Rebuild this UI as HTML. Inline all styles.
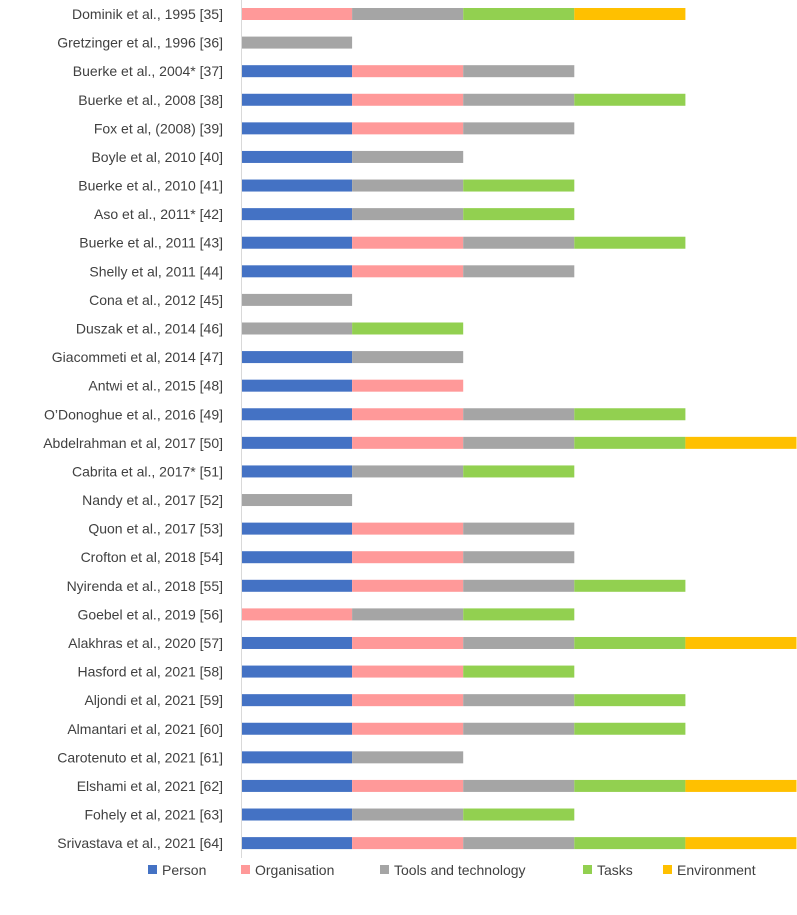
<!DOCTYPE html>
<html><head><meta charset="utf-8">
<style>
html,body{margin:0;padding:0;background:#fff;}
body{width:797px;height:910px;overflow:hidden;font-family:"Liberation Sans",sans-serif;}
svg text{font-family:"Liberation Sans",sans-serif;font-size:14px;fill:#404040;}
</style></head>
<body>
<svg id="chart" width="797" height="910"></svg>
<script>
const categories=["Dominik et al., 1995 [35]","Gretzinger et al., 1996 [36]","Buerke et al., 2004* [37]","Buerke et al., 2008 [38]","Fox et al, (2008) [39]","Boyle et al, 2010 [40]","Buerke et al., 2010 [41]","Aso et al., 2011* [42]","Buerke et al., 2011 [43]","Shelly et al, 2011 [44]","Cona et al., 2012 [45]","Duszak et al., 2014 [46]","Giacommeti et al, 2014 [47]","Antwi et al., 2015 [48]","O\u2019Donoghue et al., 2016 [49]","Abdelrahman et al, 2017 [50]","Cabrita et al., 2017* [51]","Nandy et al., 2017 [52]","Quon et al., 2017 [53]","Crofton et al, 2018 [54]","Nyirenda et al., 2018 [55]","Goebel et al., 2019 [56]","Alakhras et al., 2020 [57]","Hasford et al, 2021 [58]","Aljondi et al, 2021 [59]","Almantari et al, 2021 [60]","Carotenuto et al, 2021 [61]","Elshami et al, 2021 [62]","Fohely et al, 2021 [63]","Srivastava et al., 2021 [64]"];
const seriesNames=["Person","Organisation","Tools and technology","Tasks","Environment"];
const person=      [0,0,1,1,1,1,1,1,1,1,0,0,1,1,1,1,1,0,1,1,1,0,1,1,1,1,1,1,1,1];
const organisation=[1,0,1,1,1,0,0,0,1,1,0,0,0,1,1,1,0,0,1,1,1,1,1,1,1,1,0,1,0,1];
const tools=       [1,1,1,1,1,1,1,1,1,1,1,1,1,0,1,1,1,1,1,1,1,1,1,0,1,1,1,1,1,1];
const tasks=       [1,0,0,1,0,0,1,1,1,0,0,1,0,0,1,1,1,0,0,0,1,1,1,1,1,1,0,1,1,1];
const environment= [1,0,0,0,0,0,0,0,0,0,0,0,0,0,0,1,0,0,0,0,0,0,1,0,0,0,0,1,0,1];
const colors=["#4472C4","#FF9999","#A5A5A5","#92D050","#FFC000"];
const series=[person,organisation,tools,tasks,environment];
const NS="http://www.w3.org/2000/svg";
const svg=document.getElementById("chart");
const x0=241, unit=111.1, y0=14, step=28.59, bh=12;
const xs=v=>x0+v*unit;
const ys=i=>y0+i*step;
function mk(t,a){const e=document.createElementNS(NS,t);for(const k in a)e.setAttribute(k,a[k]);svg.appendChild(e);return e;}
categories.forEach((c,i)=>{
  const t=mk("text",{x:223,y:ys(i)+5,"text-anchor":"end"});
  t.textContent=c;
  
  
  let acc=0;
  series.forEach((s,j)=>{
    if(s[i]>0){
      const r=mk("rect",{x:xs(acc),y:ys(i)-bh/2,width:xs(acc+s[i])-xs(acc),height:bh,fill:colors[j]});
      
      
      acc+=s[i];
    }
  });
});
const ax=mk("line",{x1:x0+0.5,y1:0,x2:x0+0.5,y2:858,stroke:"#D9D9D9","stroke-width":1});


const legX=[148,241,380,583,663];
seriesNames.forEach((n,j)=>{
  const r=mk("rect",{x:legX[j],y:865,width:9,height:9,fill:colors[j]});
  
  
  const t=mk("text",{x:legX[j]+14,y:875});
  t.textContent=n;
  
  
});
</script>
</body></html>
